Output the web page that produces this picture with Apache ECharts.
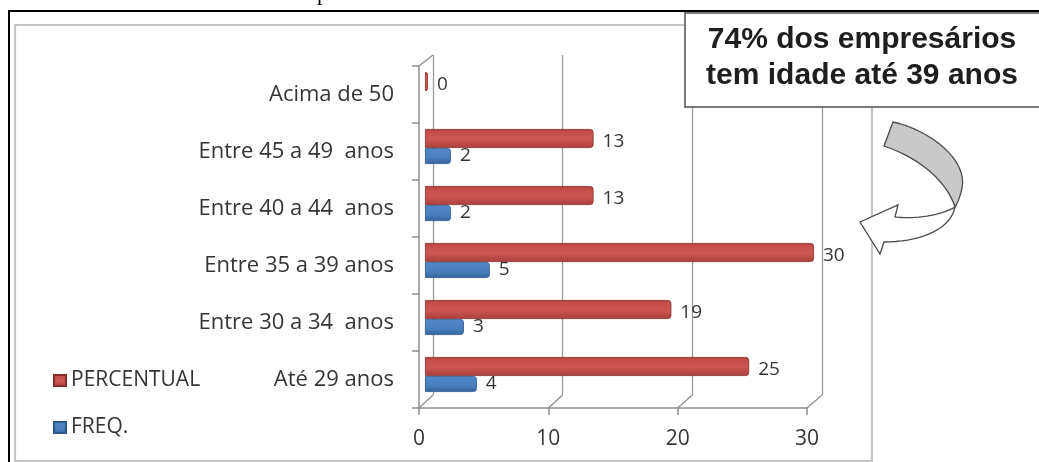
<!DOCTYPE html>
<html>
<head>
<meta charset="utf-8">
<script src="https://cdn.jsdelivr.net/npm/echarts@6/dist/echarts.min.js"></script>
<style>
  html, body { margin: 0; padding: 0; background: #fff; }
  #chart { width: 1039px; height: 462px; }
</style>
</head>
<body>
<div id="chart"></div>
<script>
// Age brackets, listed bottom to top as the category axis draws them
const categories = ['Até 29 anos', 'Entre 30 a 34  anos', 'Entre 35 a 39 anos', 'Entre 40 a 44  anos', 'Entre 45 a 49  anos', 'Acima de 50'];
const percentual = [25, 19, 30, 13, 13, 0];
const freq = [4, 3, 5, 2, 2, null];
const seriesNames = ['PERCENTUAL', 'FREQ.'];
const xTickValues = [0, 10, 20, 30];
const calloutLines = ['74% dos empresários', 'tem idade até 39 anos'];

// Layout of the pseudo-3D plot: back wall, front axes and the bar layer
const BACK = { left: 433, top: 55, width: 389, height: 340 };
const FRONT = { left: 419, top: 66, width: 388, height: 342 };
const BARS = { left: 425, top: 61, width: 389, height: 342 };
const X_MAX = 30, X_STEP = 10;

const FONT = '"Open Sans"';
const TEXT_COLOR = '#353535';
const AXIS_COLOR = '#8e8e8e';

const redFill = new echarts.graphic.LinearGradient(0, 0, 0, 1, [
  { offset: 0, color: '#a33b38' },
  { offset: 0.15, color: '#c64e4a' },
  { offset: 0.55, color: '#cb5652' },
  { offset: 1, color: '#ab3f3c' }
]);
const blueFill = new echarts.graphic.LinearGradient(0, 0, 0, 1, [
  { offset: 0, color: '#5088c8' },
  { offset: 0.6, color: '#4a7fbe' },
  { offset: 1, color: '#33629c' }
]);

const chart = echarts.init(document.getElementById('chart'), null, { renderer: 'canvas' });

const dataLabel = (dy) => ({
  show: true,
  position: 'right',
  distance: 9,
  offset: [0, dy],
  fontFamily: FONT,
  fontSize: 19,
  color: TEXT_COLOR
});

chart.setOption({
  backgroundColor: '#ffffff',
  animation: false,
  grid: [
    Object.assign({ containLabel: false }, BACK),
    Object.assign({ containLabel: false }, FRONT),
    Object.assign({ containLabel: false }, BARS)
  ],
  xAxis: [
    {
      gridIndex: 0, type: 'value', min: 0, max: X_MAX, interval: X_STEP,
      axisLine: { show: false }, axisTick: { show: false }, axisLabel: { show: false },
      splitLine: { show: true, lineStyle: { color: '#9c9c9c', width: 1.3 } }
    },
    {
      gridIndex: 1, type: 'value', min: 0, max: X_MAX, interval: X_STEP,
      axisLine: { show: true, lineStyle: { color: AXIS_COLOR, width: 1.5 } },
      axisTick: { show: true, length: 7, lineStyle: { color: AXIS_COLOR, width: 1.5 } },
      axisLabel: { margin: 21, fontFamily: FONT, fontSize: 21, color: TEXT_COLOR },
      splitLine: { show: false }
    },
    { gridIndex: 2, type: 'value', min: 0, max: X_MAX, interval: X_STEP, show: false }
  ],
  yAxis: [
    { gridIndex: 0, type: 'category', data: categories, show: false },
    {
      gridIndex: 1, type: 'category', data: categories,
      axisLine: { show: true, lineStyle: { color: AXIS_COLOR, width: 1.5 } },
      axisTick: { show: true, length: 7, lineStyle: { color: AXIS_COLOR, width: 1.5 } },
      axisLabel: { margin: 25, fontFamily: FONT, fontSize: 22, color: TEXT_COLOR }
    },
    { gridIndex: 2, type: 'category', data: categories, show: false }
  ],
  legend: {
    data: seriesNames,
    orient: 'vertical',
    left: 48,
    top: 365,
    icon: 'rect',
    itemWidth: 12,
    itemHeight: 11,
    itemGap: 26,
    textStyle: { fontFamily: FONT, fontSize: 21, color: TEXT_COLOR }
  },
  series: [
    {
      name: seriesNames[0], type: 'bar', xAxisIndex: 2, yAxisIndex: 2,
      data: percentual, barWidth: 19, barGap: '0%', barMinHeight: 3,
      itemStyle: { color: redFill, borderColor: '#8a2d2a', borderWidth: 0.8, borderRadius: [0, 3, 3, 0] },
      label: dataLabel(3)
    },
    {
      name: seriesNames[1], type: 'bar', xAxisIndex: 2, yAxisIndex: 2,
      data: freq, barWidth: 16, barGap: '0%',
      itemStyle: { color: blueFill, borderColor: '#2c578c', borderWidth: 0.8, borderRadius: [0, 3, 3, 0] },
      label: dataLabel(0)
    }
  ]
});

// Depth edges joining the front axes to the back wall
const edgeStyle = { stroke: AXIS_COLOR, lineWidth: 1.3 };
const edges = xTickValues.map(v => {
  const xf = chart.convertToPixel({ xAxisIndex: 1 }, v);
  const xb = chart.convertToPixel({ xAxisIndex: 0 }, v);
  return {
    type: 'line', z: 1, silent: true,
    shape: { x1: xf, y1: FRONT.top + FRONT.height, x2: xb, y2: BACK.top + BACK.height },
    style: edgeStyle
  };
});
const x0f = chart.convertToPixel({ xAxisIndex: 1 }, 0);
const x0b = chart.convertToPixel({ xAxisIndex: 0 }, 0);
edges.push({
  type: 'line', z: 1, silent: true,
  shape: { x1: x0f, y1: FRONT.top, x2: x0b, y2: BACK.top },
  style: edgeStyle
});

// Outline builder for the curved arrow: straight points and cubic segments
function outline(start, segments) {
  const pts = [start];
  let p = start;
  segments.forEach(seg => {
    if (seg.length === 1) {
      p = seg[0];
      pts.push(p);
    } else {
      const [c1, c2, e] = seg;
      for (let i = 1; i <= 16; i++) {
        const t = i / 16, u = 1 - t;
        pts.push([
          u * u * u * p[0] + 3 * u * u * t * c1[0] + 3 * u * t * t * c2[0] + t * t * t * e[0],
          u * u * u * p[1] + 3 * u * u * t * c1[1] + 3 * u * t * t * c2[1] + t * t * t * e[1]
        ]);
      }
      p = e;
    }
  });
  return pts;
}

const arrowBack = outline([893, 122], [
  [[930, 130], [968, 160], [962, 188]],
  [[960, 197], [958, 202], [955, 207]],
  [[948, 185], [925, 160], [884, 146]]
]);
const arrowFront = outline([955, 207], [
  [[940, 216], [915, 219], [895, 217]],
  [[898, 205]],
  [[860, 222]],
  [[880, 254]],
  [[884, 242]],
  [[915, 242], [950, 232], [955, 207]]
]);

const calloutFont = 'bold 30px "Liberation Sans"';

chart.setOption({
  graphic: [
    // chart area border
    {
      type: 'rect', z: -5, silent: true,
      shape: { x: 15, y: 25, width: 857, height: 436 },
      style: { fill: 'none', stroke: '#c6c6c6', lineWidth: 2.2 }
    },
    // page frame
    { type: 'line', z: 20, silent: true, shape: { x1: 8, y1: 11, x2: 1039, y2: 11 }, style: { stroke: '#000', lineWidth: 2 } },
    { type: 'line', z: 20, silent: true, shape: { x1: 9, y1: 10, x2: 9, y2: 462 }, style: { stroke: '#000', lineWidth: 2 } },
    // descender of the caption line above
    {
      type: 'text', z: 20, silent: true, x: 317, y: -17,
      style: { text: 'p', font: '22px "Liberation Serif"', fill: '#000' }
    },
    // callout box
    {
      type: 'rect', z: 10, silent: true,
      shape: { x: 685, y: 13, width: 362, height: 94 },
      style: { fill: '#fff', stroke: '#4d4d4d', lineWidth: 1.5 }
    },
    {
      type: 'text', z: 11, silent: true, x: 862, y: 40,
      style: { text: calloutLines[0], font: calloutFont, fill: '#1e1e1e', align: 'center', verticalAlign: 'middle' }
    },
    {
      type: 'text', z: 11, silent: true, x: 862, y: 76,
      style: { text: calloutLines[1], font: calloutFont, fill: '#1e1e1e', align: 'center', verticalAlign: 'middle' }
    },
    // curved arrow: shaded back of the ribbon, then the front with the head
    {
      type: 'polygon', z: 10, silent: true,
      shape: { points: arrowBack },
      style: { fill: '#c9c9c9', stroke: '#4a4a4a', lineWidth: 1.3, lineJoin: 'round' }
    },
    {
      type: 'polygon', z: 10, silent: true,
      shape: { points: arrowFront },
      style: { fill: '#ffffff', stroke: '#4a4a4a', lineWidth: 1.3, lineJoin: 'miter' }
    }
  ].concat(edges)
});
</script>
</body>
</html>
